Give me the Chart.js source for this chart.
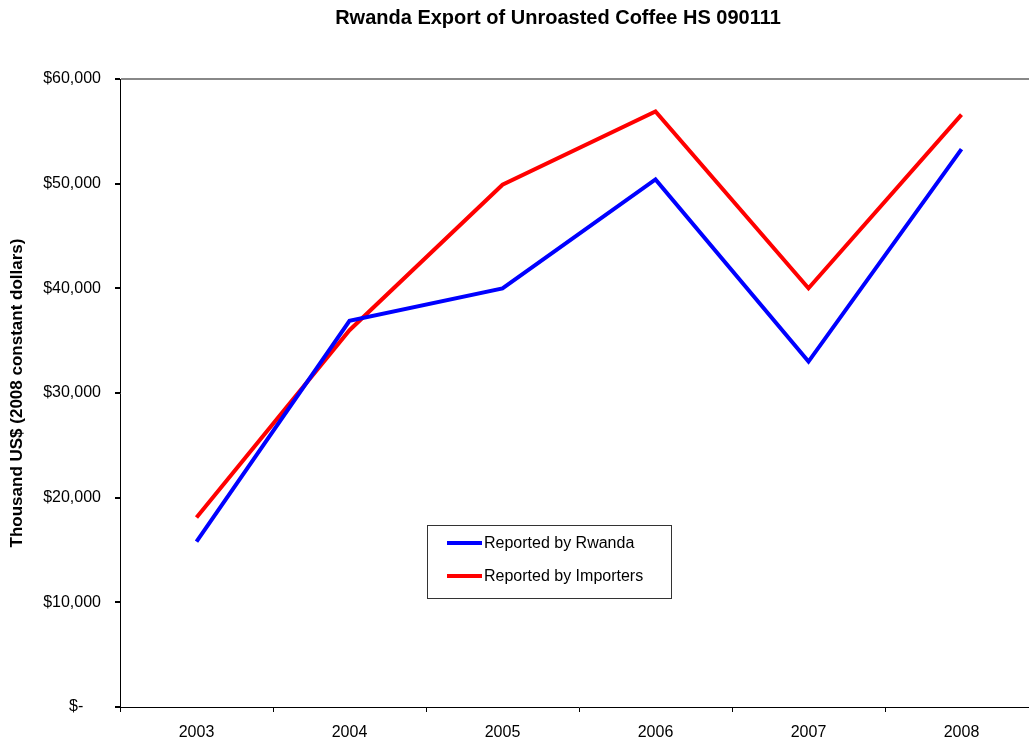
<!DOCTYPE html>
<html>
<head>
<meta charset="utf-8">
<script src="https://cdn.jsdelivr.net/npm/chart.js@4/dist/chart.umd.min.js"></script>
<style>
  html, body { margin: 0; padding: 0; overflow: hidden; background: #fff; }
</style>
</head>
<body>
<canvas id="coffeeChart" width="1044" height="743"></canvas>
<script>
const years = ["2003", "2004", "2005", "2006", "2007", "2008"];
const rwandaValues = [15800, 36900, 40000, 50400, 33000, 53300];
const importerValues = [18100, 36000, 49900, 56900, 40000, 56600];
const chartTitle = "Rwanda Export of Unroasted Coffee HS 090111";
const yTitle = "Thousand US$ (2008 constant dollars)";

const FONT = "'Liberation Sans', Arial, sans-serif";

// title + legend box drawn by hand so they sit where the original has them
const extras = {
    id: "extras",
    afterDraw(chart) {
        const c = chart.ctx;
        c.save();
        c.fillStyle = "#000";
        c.font = "bold 20px " + FONT;
        c.textAlign = "center";
        c.textBaseline = "middle";
        c.fillText(chartTitle, 558, 18);

        // legend
        const bx = 427.5, by = 525.5, bw = 244, bh = 73;
        c.fillStyle = "#fff";
        c.fillRect(bx, by, bw, bh);
        c.strokeStyle = "#333";
        c.lineWidth = 1;
        c.strokeRect(bx, by, bw, bh);
        c.font = "16px " + FONT;
        c.textAlign = "left";
        chart.data.datasets.forEach((ds, i) => {
            const y = 543 + i * 33;
            c.strokeStyle = ds.borderColor;
            c.lineWidth = 4;
            c.beginPath();
            c.moveTo(447, y);
            c.lineTo(482, y);
            c.stroke();
            c.fillStyle = "#000";
            c.fillText(ds.label, 484, y + 1);
        });
        c.restore();
    }
};

const ctx = document.getElementById("coffeeChart").getContext("2d");
const coffeeChart = new Chart(ctx, {
    type: "line",
    data: {
        labels: years,
        datasets: [
            {
                label: "Reported by Rwanda",
                data: rwandaValues,
                borderColor: "#0000ff",
                borderWidth: 4,
                pointRadius: 0,
                fill: false,
                tension: 0
            },
            {
                label: "Reported by Importers",
                data: importerValues,
                borderColor: "#ff0000",
                borderWidth: 4,
                pointRadius: 0,
                fill: false,
                tension: 0
            }
        ]
    },
    options: {
        responsive: false,
        animation: false,
        layout: { padding: { top: 79, right: 6, bottom: 0, left: 0 } },
        plugins: {
            legend: { display: false },
            title: { display: false },
            tooltip: { enabled: false }
        },
        scales: {
            x: {
                offset: true,
                grid: {
                    offset: true,
                    drawOnChartArea: false,
                    color: "#000",
                    tickLength: 5
                },
                border: { color: "#000", width: 1 },
                ticks: {
                    color: "#000",
                    padding: 11,
                    maxRotation: 0,
                    font: { family: FONT, size: 16 }
                },
                afterFit(scale) { scale.height = 36; }
            },
            y: {
                min: 0,
                max: 60000,
                ticks: {
                    stepSize: 10000,
                    color: "#000",
                    padding: 14,
                    font: { family: FONT, size: 16 },
                    callback: v => v === 0 ? "$-    " : "$" + v.toLocaleString("en-US")
                },
                grid: {
                    color: c => (c.tick && c.tick.value === 60000) ? "#888" : "rgba(0,0,0,0)",
                    lineWidth: 2,
                    tickColor: "#000",
                    tickLength: 5
                },
                border: { color: "#000", width: 1 },
                title: {
                    display: true,
                    text: yTitle,
                    color: "#000",
                    font: { family: FONT, size: 17, weight: "bold" },
                    padding: { top: 7, bottom: 0 }
                },
                afterFit(scale) { scale.width = 120; }
            }
        }
    },
    plugins: [extras]
});
</script>
</body>
</html>
